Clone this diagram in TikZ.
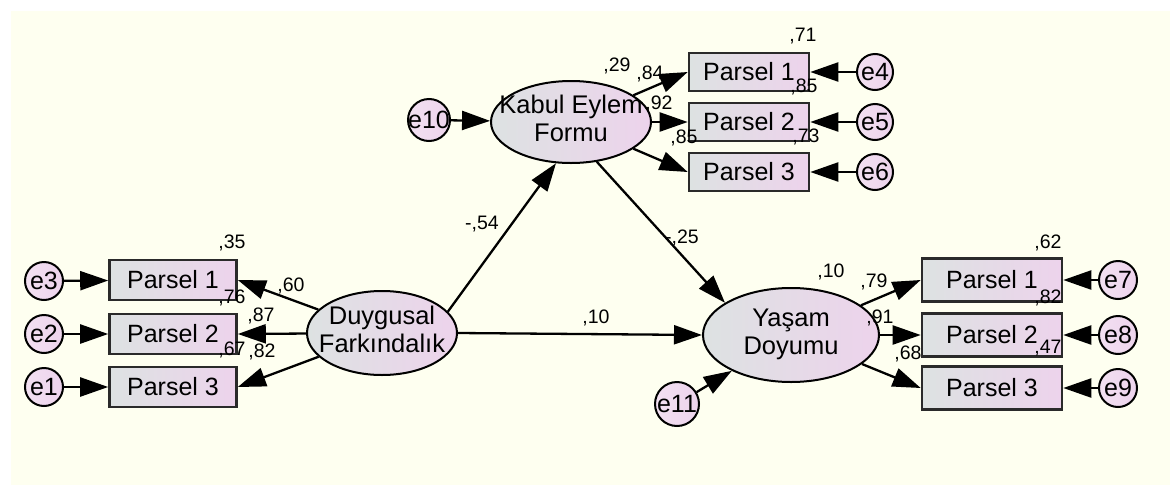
\documentclass[tikz,border=0pt]{standalone}
\usepackage{fontspec}
\setmainfont{Liberation Sans}
\usetikzlibrary{arrows.meta,shapes.geometric}
\definecolor{bgc}{HTML}{FEFFF0}
\definecolor{gl}{HTML}{DDE2E2}
\definecolor{pk}{HTML}{EDD3EC}
\definecolor{bd}{HTML}{2A2A2A}
\newcommand\errtxt[1]{\makebox[0pt]{#1}}
\newcommand\lattxt[2]{\makebox[0pt]{\begin{tabular}{@{}c@{}}#1\\#2\end{tabular}}}
\begin{document}
\begin{tikzpicture}[x=1pt,y=-1pt,
  obs/.style={draw=bd, line width=2.6pt, left color=gl, right color=pk, minimum width=127pt, minimum height=40pt, inner sep=0pt, font=\fontsize{25}{25}\selectfont},
  obst/.style={obs, minimum width=120pt, minimum height=38pt},
  obsr/.style={obs, minimum width=140pt, minimum height=43pt},
  lat/.style={ellipse, draw=black, line width=2pt, left color=gl, right color=pk, inner sep=0pt, font=\fontsize{25.5}{28}\selectfont},
  err/.style={circle, draw=black, line width=2pt, left color=pk!70!white, right color=pk, minimum size=38pt, inner sep=0pt, font=\fontsize{25}{25}\selectfont},
  arr/.style={line width=2.3pt, -{Triangle[length=28pt,width=19pt]}},
  lbl/.style={font=\fontsize{19.5}{19.5}\selectfont, inner sep=0pt}]
\useasboundingbox (0,0) rectangle (1170,485);
\fill[bgc] (11,11) rectangle (1170,485);

% left block
\node[err] (e3) at (44,281) {\errtxt{e3}};
\node[err] (e2) at (44,334) {\errtxt{e2}};
\node[err] (e1) at (44,387) {\errtxt{e1}};
\node[obs] (p1l) at (173,280) {Parsel 1};
\node[obs] (p2l) at (173,334) {Parsel 2};
\node[obs] (p3l) at (173,387) {Parsel 3};
\node[lat, minimum width=150pt, minimum height=84pt] (df) at (382,333) {\lattxt{Duygusal}{Farkındalık}};

% top block
\node[lat, minimum width=160pt, minimum height=82pt] (kef) at (571,122) {\lattxt{Kabul Eylem}{Formu}};
\node[err, minimum size=42pt] (e10) at (429,120) {\errtxt{e10}};
\node[obst] (p1t) at (749,72) {Parsel 1};
\node[obst] (p2t) at (749,122) {Parsel 2};
\node[obst] (p3t) at (749,172) {Parsel 3};
\node[err, minimum size=36pt] (e4) at (875,72) {\errtxt{e4}};
\node[err, minimum size=36pt] (e5) at (875,122) {\errtxt{e5}};
\node[err, minimum size=36pt] (e6) at (875,172) {\errtxt{e6}};

% right block
\node[lat, minimum width=176pt, minimum height=94pt] (yd) at (791,335) {\lattxt{Yaşam}{Doyumu}};
\node[err, minimum size=44pt] (e11) at (677,404) {\errtxt{e11}};
\node[obsr] (p1r) at (992,280) {Parsel 1};
\node[obsr] (p2r) at (992,335) {Parsel 2};
\node[obsr] (p3r) at (992,388) {Parsel 3};
\node[err] (e7) at (1118,280) {\errtxt{e7}};
\node[err] (e8) at (1118,335) {\errtxt{e8}};
\node[err] (e9) at (1118,388) {\errtxt{e9}};

% arrows
\draw[arr] (e3) -- (p1l);
\draw[arr] (e2) -- (p2l);
\draw[arr] (e1) -- (p3l);
\draw[arr] (df) -- (p1l.east);
\draw[arr] (df) -- (p2l.east);
\draw[arr] (df) -- (p3l.east);
\draw[arr] (df.18) -- (kef.250);
\draw[arr] (df.east) -- (yd.west);
\draw[arr] (kef.-57) -- (yd.154);
\draw[arr] (e10) -- (kef);
\draw[arr] (kef) -- (p1t.west);
\draw[arr] (kef) -- (p2t.west);
\draw[arr] (kef) -- (p3t.west);
\draw[arr] (e4) -- (p1t);
\draw[arr] (e5) -- (p2t);
\draw[arr] (e6) -- (p3t);
\draw[arr] (e11) -- (yd);
\draw[arr] (yd) -- (p1r.west);
\draw[arr] (yd) -- (p2r.west);
\draw[arr] (yd) -- (p3r.west);
\draw[arr] (e7) -- (p1r);
\draw[arr] (e8) -- (p2r);
\draw[arr] (e9) -- (p3r);

% labels
\node[lbl] (l35) at (232,243) {,35};
\node[lbl] (l60) at (291,286) {,60};
\node[lbl] (l76) at (232,298) {,76};
\node[lbl] (l87) at (261,316) {,87};
\node[lbl] (l67) at (232,350) {,67};
\node[lbl] (l82a) at (262,352) {,82};
\node[lbl] (l29) at (617,66) {,29};
\node[lbl] (l84) at (650,74) {,84};
\node[lbl] (l92) at (659,104) {,92};
\node[lbl] (l85a) at (684,138) {,85};
\node[lbl] (l71) at (803,36) {,71};
\node[lbl] (l85b) at (804,87) {,85};
\node[lbl] (l73) at (806,137) {,73};
\node[lbl] (l10a) at (831,272) {,10};
\node[lbl] (l79) at (874,282) {,79};
\node[lbl] (l91) at (880,318) {,91};
\node[lbl] (l68) at (908,354) {,68};
\node[lbl] (l62) at (1048,243) {,62};
\node[lbl] (l82b) at (1048,298) {,82};
\node[lbl] (l47) at (1048,348) {,47};
\node[lbl] (l54) at (482,224) {-,54};
\node[lbl] (l10b) at (596,318) {,10};
\node[lbl] (l25) at (682,238) {-,25};
\end{tikzpicture}
\end{document}
